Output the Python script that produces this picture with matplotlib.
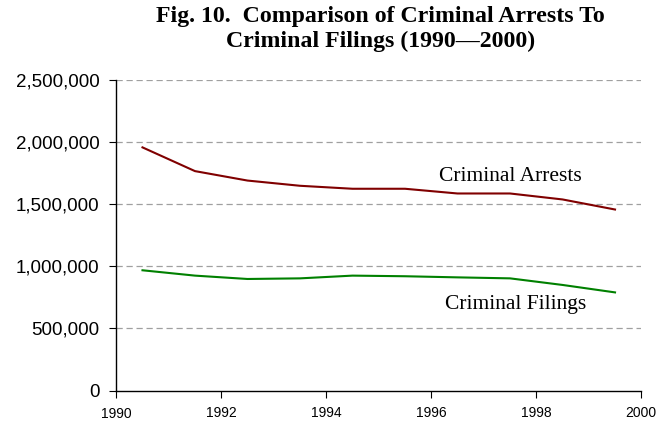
import matplotlib.pyplot as plt
from matplotlib.ticker import FuncFormatter

# years are plotted at mid-year, like the Excel original
years = [1990.5, 1991.5, 1992.5, 1993.5, 1994.5, 1995.5, 1996.5, 1997.5, 1998.5, 1999.5]
arrests = [1957000, 1766000, 1690000, 1648000, 1624000, 1624000, 1586000, 1586000, 1538000, 1457000]
filings = [968000, 925000, 898000, 903000, 925000, 920000, 911000, 903000, 850000, 790000]
x_ticks = [1990, 1992, 1994, 1996, 1998, 2000]
y_ticks = [0, 500000, 1000000, 1500000, 2000000, 2500000]

fig = plt.figure(figsize=(6.68, 4.25), dpi=100)
ax = fig.add_axes([0.174, 0.081, 0.786, 0.731])

ax.plot(years, arrests, color='#800000', lw=1.5)
ax.plot(years, filings, color='#008000', lw=1.5)

ax.text(1997.5, 1720000, 'Criminal Arrests', family='Liberation Serif', fontsize=15.5,
        ha='center', va='center')
ax.text(1997.6, 690000, 'Criminal Filings', family='Liberation Serif', fontsize=15.5,
        ha='center', va='center')

ax.set_xlim(1990, 2000)
ax.set_ylim(0, 2500000)
ax.set_xticks(x_ticks)
# first label sits a little lower in the original, drawn separately below
ax.set_xticklabels([''] + [str(t) for t in x_ticks[1:]])
ax.set_yticks(y_ticks)
ax.yaxis.set_major_formatter(FuncFormatter(lambda v, p: f'{int(v):,}'))

ax.annotate(str(x_ticks[0]), xy=(x_ticks[0], 0), xycoords=('data', 'axes fraction'),
            xytext=(0, -12), textcoords='offset points', ha='center', va='top',
            family='Liberation Sans', fontsize=10)

for y in y_ticks[1:]:
    ax.axhline(y, color='#a0a0a0', lw=0.9, ls=(0, (5, 3)), zorder=0)

for s in ['top', 'right']:
    ax.spines[s].set_visible(False)
ax.spines['left'].set_linewidth(1.0)
ax.spines['bottom'].set_linewidth(1.0)

ax.tick_params(axis='y', direction='out', length=5, labelsize=13.5, pad=7)
ax.tick_params(axis='x', direction='out', length=5, labelsize=10, pad=6)
for lab in ax.get_yticklabels() + ax.get_xticklabels():
    lab.set_family('Liberation Sans')

fig.text(0.569, 0.985, 'Fig. 10.  Comparison of Criminal Arrests To\nCriminal Filings (1990\u20142000)',
         family='Liberation Serif', fontweight='bold', fontsize=17.2,
         ha='center', va='top', linespacing=1.2)

plt.savefig('out.png', dpi=100)
